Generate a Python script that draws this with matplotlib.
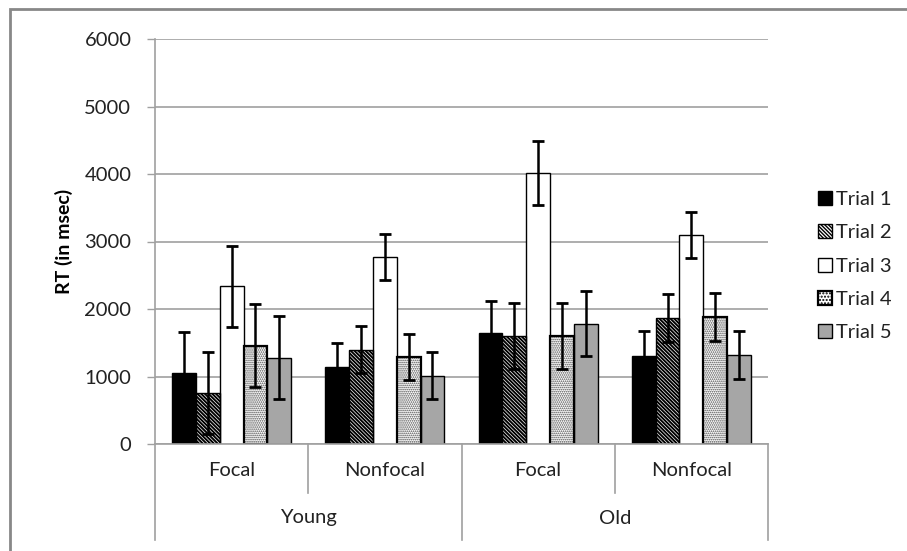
import matplotlib
matplotlib.use("Agg")
import matplotlib.pyplot as plt
import matplotlib.patches as patches
import numpy as np

plt.rcParams['font.family'] = ['Lato', 'DejaVu Sans']

# Data
conditions = ["Focal", "Nonfocal", "Focal", "Nonfocal"]
age_groups = ["Young", "Old"]
trials = ["Trial 1", "Trial 2", "Trial 3", "Trial 4", "Trial 5"]

# rows = trial, cols = condition (Young Focal, Young Nonfocal, Old Focal, Old Nonfocal)
means = [
    [1050, 1140, 1640, 1300],
    [755, 1400, 1605, 1870],
    [2340, 2765, 4010, 3095],
    [1455, 1290, 1605, 1885],
    [1280, 1010, 1785, 1320],
]
errors = [
    [612, 350, 480, 375],
    [610, 342, 488, 355],
    [600, 342, 475, 345],
    [612, 345, 488, 355],
    [610, 350, 485, 355],
]

faces = ["black", "white", "white", "white", "#a6a6a6"]
hatches = [None, "\\" * 9, None, "." * 8, None]
hatch_colors = [None, "black", None, "#4a4a4a", None]
hatch_lw = [1.0, 1.4, 1.0, 0.8, 1.0]
edge_w = [1.0, 1.0, 1.0, 1.6, 1.0]

fig = plt.figure(figsize=(9.07, 5.51), dpi=100)
ax = fig.add_axes([155 / 907, 1 - 444 / 551, (768 - 155) / 907, (444 - 39) / 551])

x = np.arange(len(conditions))
width = 0.155
handles = []
for j, trial in enumerate(trials):
    pos = x + (j - 2) * width
    if hatches[j]:
        # hatch layer first (own colour), black outline on top
        with plt.rc_context({'hatch.linewidth': hatch_lw[j]}):
            ax.bar(pos, means[j], width, color=faces[j], edgecolor=hatch_colors[j],
                   hatch=hatches[j], linewidth=0, zorder=2)
            h = patches.Patch(facecolor=faces[j], edgecolor="black",
                              hatch=hatches[j] if j == 1 else "." * 5,
                              linewidth=edge_w[j], label=trial)
        ax.bar(pos, means[j], width, fill=False, edgecolor="black",
               linewidth=edge_w[j], zorder=2.1)
        handles.append(h)
    else:
        b = ax.bar(pos, means[j], width, color=faces[j], edgecolor="black",
                   linewidth=edge_w[j], label=trial, zorder=2)
        handles.append(b)
    ax.errorbar(pos, means[j], yerr=errors[j], fmt="none", ecolor="black",
                elinewidth=1.8, capsize=4, capthick=2, zorder=3)

ax.set_ylim(0, 6000)
ax.set_xlim(-0.5, 3.5)
ax.set_yticks(range(0, 6001, 1000))
ax.yaxis.grid(True, color="#a0a0a0", linewidth=1.2, zorder=0)
ax.set_axisbelow(True)
ax.tick_params(axis="y", direction="out", length=6, width=1, color="#a0a0a0",
               pad=11, labelsize=14.5, labelcolor="#222222")
ax.set_xticks([])
for s in ["top", "right"]:
    ax.spines[s].set_visible(False)
ax.spines["left"].set_color("#a0a0a0")
ax.spines["left"].set_linewidth(1.2)
ax.spines["bottom"].set_color("#a0a0a0")
ax.spines["bottom"].set_linewidth(1.2)
ax.set_ylabel("RT (in msec)", fontsize=14, fontweight="bold", labelpad=8)

# multi-level category axis
tr = ax.get_xaxis_transform()
y_inner = -(493 - 444) / 405
y_outer = -(540 - 444) / 405
for b in [-0.5, 1.5, 3.5]:
    ax.plot([b, b], [0, y_outer], transform=tr, color="#a0a0a0", lw=1.2, clip_on=False)
for b in [0.5, 2.5]:
    ax.plot([b, b], [0, y_inner], transform=tr, color="#a0a0a0", lw=1.2, clip_on=False)
for i, c in enumerate(conditions):
    ax.text(x[i], -(470 - 444) / 405, c, transform=tr, ha="center", va="center",
            fontsize=14.5, color="#222222")
for k, g in enumerate(age_groups):
    ax.text(0.5 + 2 * k, -(518 - 444) / 405, g, transform=tr, ha="center", va="center",
            fontsize=14.5, color="#222222")

fig.legend(handles=handles, labels=trials, loc="upper left",
           bbox_to_anchor=(800 / 907, 1 - 173 / 551), frameon=False,
           fontsize=14.5, handlelength=0.7, handleheight=0.7, handletextpad=0.2,
           labelspacing=0.8, labelcolor="#222222")

# outer chart border
fig.add_artist(patches.Rectangle((10 / 907, -0.1), 2, 1 - 9 / 551 + 0.1,
                                 transform=fig.transFigure, fill=False,
                                 edgecolor="#888888", linewidth=2))

fig.savefig("out.png", dpi=100)
